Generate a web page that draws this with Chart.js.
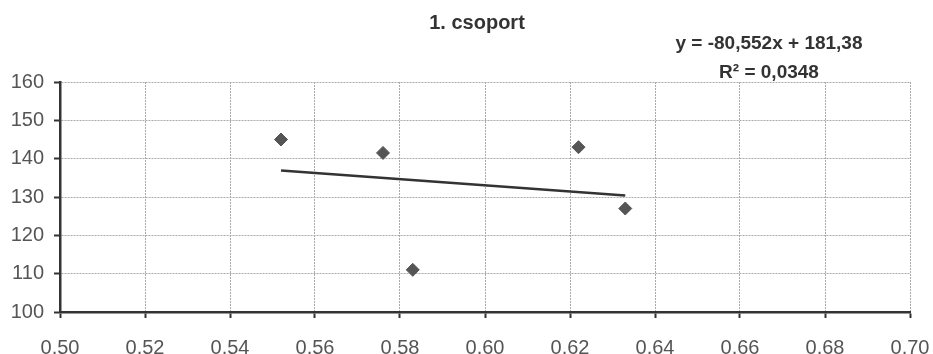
<!DOCTYPE html>
<html>
<head>
<meta charset="utf-8">
<script src="https://cdn.jsdelivr.net/npm/chart.js@4/dist/chart.umd.min.js"></script>
<style>
html,body{margin:0;padding:0;background:#fff;}
#wrap{width:933px;height:354px;}
</style>
</head>
<body>
<div id="wrap"><canvas id="c" width="933" height="354"></canvas></div>
<script>
// data
const xVals=[0.552,0.576,0.583,0.622,0.633];
const yVals=[145,141.5,111,143,127];
const slope=-80.552, intercept=181.38;
const titleText="1. csoport";
const eqText="y = -80,552x + 181,38";
const r2Text="R² = 0,0348";

let pts=xVals.map((x,i)=>({x:x,y:yVals[i]}));
let x0=Math.min(...xVals), x1=Math.max(...xVals);
let trend=[{x:x0,y:slope*x0+intercept},{x:x1,y:slope*x1+intercept}];

const textPlugin={
id:'texts',
afterDraw(chart){
let ctx=chart.ctx;
ctx.save();
ctx.fillStyle='#333';
ctx.textAlign='center';
ctx.textBaseline='middle';
ctx.font='bold 20px "Liberation Sans", Arial, sans-serif';
ctx.fillText(titleText,477,23);
ctx.font='bold 19px "Liberation Sans", Arial, sans-serif';
ctx.fillText(eqText,769,44);
ctx.fillText(r2Text,769,73);
ctx.restore();
}
};

const bg={
id:'bg',
beforeDraw(chart){
let ctx=chart.ctx;
ctx.save();ctx.fillStyle='#fff';ctx.fillRect(0,0,chart.width,chart.height);ctx.restore();
}
};

new Chart(document.getElementById('c'),{
type:'scatter',
data:{datasets:[
{data:pts,pointStyle:'rectRot',pointRadius:6.5,backgroundColor:'#555',borderColor:'#555',showLine:false},
{data:trend,showLine:true,pointRadius:0,borderColor:'#333',borderWidth:2.5,fill:false}
]},
options:{
responsive:false,
animation:false,
layout:{padding:{left:0,top:82,right:0,bottom:0}},
plugins:{legend:{display:false},tooltip:{enabled:false}},
scales:{
x:{
type:'linear',min:0.5,max:0.7,
ticks:{stepSize:0.02,color:'#555',padding:18,maxRotation:0,autoSkip:false,
font:{family:'"Liberation Sans", Arial, sans-serif',size:20},
callback:v=>v.toFixed(2).replace('.',',')},
grid:{color:'#aaa',tickColor:'#333',tickLength:6,tickWidth:2},
border:{display:true,color:'#333',width:2.5,dash:[2,1]},
afterFit(s){s.height=42;s.paddingLeft=0;s.paddingRight=23;}
},
y:{
min:100,max:160,
ticks:{stepSize:10,color:'#555',padding:10,
font:{family:'"Liberation Sans", Arial, sans-serif',size:20}},
grid:{color:'#aaa',tickColor:'#333',tickLength:6,tickWidth:2},
border:{display:true,color:'#333',width:2.5,dash:[2,1]},
afterFit(s){s.width=60;}
}
}
},
plugins:[bg,textPlugin]
});
</script>
</body>
</html>
